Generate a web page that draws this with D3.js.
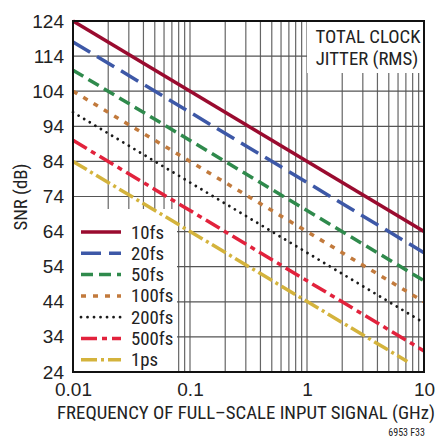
<!DOCTYPE html>
<html>
<head>
<meta charset="utf-8">
<script src="https://cdn.jsdelivr.net/npm/d3@7"></script>
<style>
  body { margin: 0; background: #fff; }
  text { font-family: "Liberation Sans Narrow", "Roboto Condensed", "Liberation Sans", sans-serif; fill: #222; }
</style>
</head>
<body>
<svg id="chart"></svg>
<script>
var series = ["10fs", "20fs", "50fs", "100fs", "200fs", "500fs", "1ps"];
var freqs = [[0.01, 10], [0.01, 10], [0.01, 10], [0.01, 10], [0.01, 10], [0.01, 10], [0.01, 7.2]];
var snr = [[124, 64], [118, 58], [110, 50], [104, 44], [98, 38], [90, 30], [84, 27]];
var colors = ["#9a0b2f", "#3d58a7", "#2f8a4c", "#c27a3c", "#1a1a1a", "#e2223c", "#d4b33c"];
var dashes = [null, "20,8", "12,6", "5,7", "0.01,6.5", "16,5,5,5", "16,4,3,4"];
var yTicks = [24, 34, 44, 54, 64, 74, 84, 94, 104, 114, 124];
var xTicks = [0.01, 0.1, 1, 10];

var W = 438, H = 439;
var margin = {top: 21, right: 14, bottom: 67, left: 73};
var width = W - margin.left - margin.right,
    height = H - margin.top - margin.bottom;

var svg = d3.select("#chart").attr("width", W).attr("height", H);
var g = svg.append("g").attr("transform", "translate(" + margin.left + "," + margin.top + ")");

var x = d3.scaleLog().domain([0.01, 10]).range([0, width]);
var y = d3.scaleLinear().domain([24, 124]).range([height, 0]);

// grid: minor log lines
var minor = [];
[0.01, 0.1, 1].forEach(function (d) {
  for (var k = 1; k <= 9; k++) minor.push(d * k);
});
g.append("g").selectAll("line").data(minor.slice(1)).enter().append("line")
  .attr("x1", function (d) { return x(d); }).attr("x2", function (d) { return x(d); })
  .attr("y1", 0).attr("y2", height)
  .attr("stroke", "#666").attr("stroke-width", 1.2);
g.append("g").selectAll("line").data(yTicks).enter().append("line")
  .attr("x1", 0).attr("x2", width)
  .attr("y1", function (d) { return y(d); }).attr("y2", function (d) { return y(d); })
  .attr("stroke", "#555").attr("stroke-width", 1.2);

// white boxes for the title and the legend
g.append("rect").attr("x", x(1)).attr("y", 0).attr("width", width - x(1)).attr("height", 52).attr("fill", "#fff");
g.append("rect").attr("x", 0).attr("y", 188).attr("width", 104).attr("height", height - 188).attr("fill", "#fff");

// lines
var line = d3.line().x(function (d) { return x(d[0]); }).y(function (d) { return y(d[1]); });
series.forEach(function (s, i) {
  var pts = [[freqs[i][0], snr[i][0]], [freqs[i][1], snr[i][1]]];
  g.append("path").datum(pts).attr("d", line)
    .attr("fill", "none").attr("stroke", colors[i])
    .attr("stroke-width", i == 4 ? 2.8 : 3.5)
    .attr("stroke-linecap", i == 4 ? "round" : "butt")
    .attr("stroke-dasharray", dashes[i]);
});

// frame
g.append("rect").attr("width", width).attr("height", height)
  .attr("fill", "none").attr("stroke", "#111").attr("stroke-width", 2);

// axes labels
var yAxis = d3.axisLeft(y).tickValues(yTicks).tickSize(0).tickPadding(9);
g.append("g").call(yAxis).call(function (a) {
  a.select(".domain").remove();
  a.selectAll("text").attr("font-size", 19).attr("fill", "#222")
    .style("font-family", "'Liberation Sans Narrow', 'Liberation Sans', sans-serif");
});
var xAxis = d3.axisBottom(x).tickValues(xTicks).tickSize(0).tickPadding(11)
  .tickFormat(function (d) { return d < 1 ? String(d) : d3.format("d")(d); });
g.append("g").attr("transform", "translate(0," + height + ")").call(xAxis).call(function (a) {
  a.select(".domain").remove();
  a.selectAll("text").attr("font-size", 19).attr("fill", "#222")
    .style("font-family", "'Liberation Sans Narrow', 'Liberation Sans', sans-serif");
});

svg.append("text").attr("x", 246).attr("y", 419).attr("text-anchor", "middle")
  .attr("font-size", 18.8).text("FREQUENCY OF FULL\u2013SCALE INPUT SIGNAL (GHz)");
svg.append("text").attr("transform", "translate(27,197) rotate(-90)").attr("text-anchor", "middle")
  .attr("font-size", 18.8).text("SNR (dB)");
svg.append("text").attr("x", 425).attr("y", 436).attr("text-anchor", "end")
  .attr("font-size", 10).text("6953 F33");

// title
svg.append("text").attr("x", 368).attr("y", 43).attr("text-anchor", "middle").attr("font-size", 18.8).text("TOTAL CLOCK");
svg.append("text").attr("x", 367).attr("y", 65).attr("text-anchor", "middle").attr("font-size", 18.8).text("JITTER (RMS)");

// legend
var leg = g.append("g").attr("transform", "translate(8,211)");
series.forEach(function (s, i) {
  var row = leg.append("g").attr("transform", "translate(0," + (i * 21.3) + ")");
  row.append("line").attr("x1", 0).attr("x2", 40).attr("y1", 0).attr("y2", 0)
    .attr("stroke", colors[i]).attr("stroke-width", i == 4 ? 2.8 : 3.5)
    .attr("stroke-linecap", i == 4 ? "round" : "butt")
    .attr("stroke-dasharray", dashes[i]);
  row.append("text").attr("x", 50).attr("y", 6.5).attr("font-size", 18.8).text(s);
});
</script>
</body>
</html>
